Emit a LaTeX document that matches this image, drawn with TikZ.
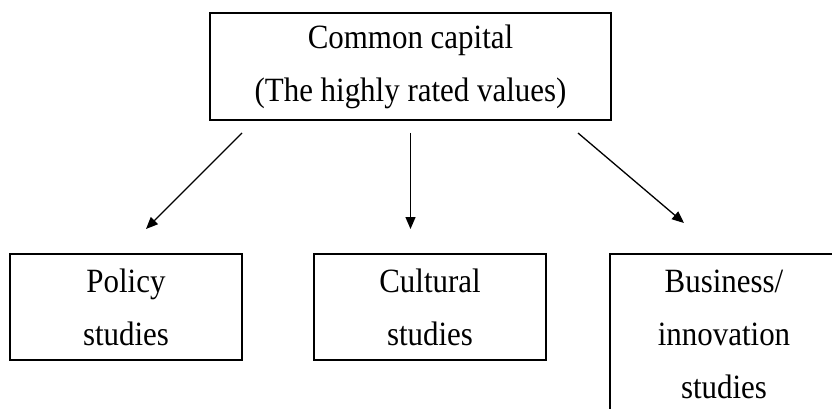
\documentclass[tikz,border=0pt]{standalone}
\usepackage{fontspec}
\setmainfont{Liberation Serif}[FakeStretch=0.91]
\usetikzlibrary{arrows.meta}
\begin{document}
\begin{tikzpicture}[x=1pt,y=-1pt,
  boxtext/.style={font=\fontsize{34}{53}\selectfont, align=center, inner sep=0pt},
  box/.style={boxtext, draw, line width=1.6pt, minimum width=#1, minimum height=106pt},
  link/.style={line width=1.3pt, -{Triangle[length=12pt,width=10pt]}}]
\useasboundingbox (0,0) rectangle (832,409);
\node[box=401pt, minimum height=107pt] (top) at (410.5,66.5) {Common capital\\(The highly rated values)};
\node[box=232pt] (policy) at (126,307) {Policy\\studies};
\node[box=232pt] (cultural) at (430,307) {Cultural\\studies};
\node[boxtext] (business) at (724,334) {Business/\\innovation\\studies};
\draw[line width=1.6pt] (610,420) -- (610,254) -- (845,254);
\coordinate (s1) at (242,133);
\coordinate (e1) at (146,229);
\coordinate (s2) at (410.5,133);
\coordinate (e2) at (410.5,229);
\coordinate (s3) at (578,133);
\coordinate (e3) at (684,223);
\draw[link] (s1) -- (e1);
\draw[link] (s2) -- (e2);
\draw[link] (s3) -- (e3);
\end{tikzpicture}
\end{document}
